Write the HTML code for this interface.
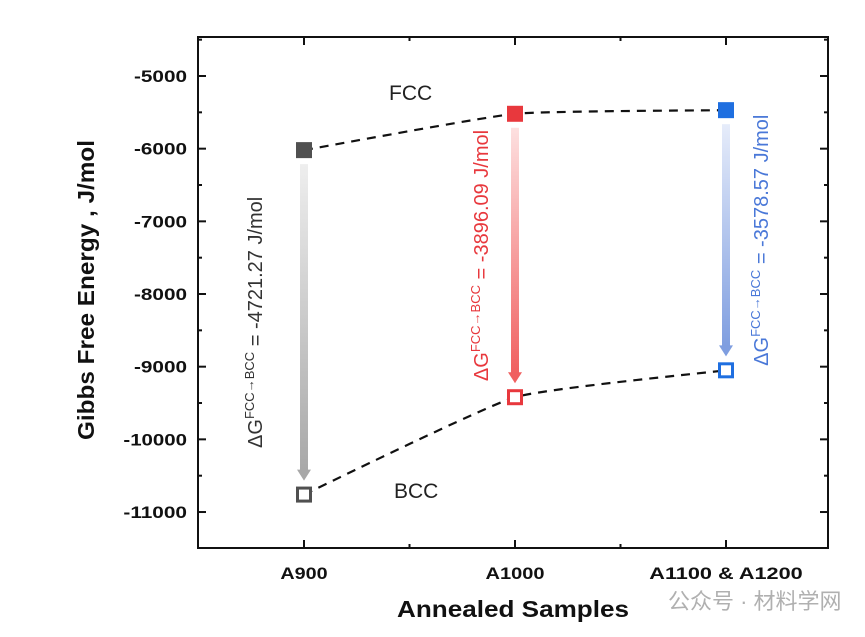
<!DOCTYPE html>
<html><head><meta charset="utf-8"><style>
body{margin:0;background:#fff;}
svg text{font-family:"Liberation Sans",Arial,sans-serif;}
</style></head><body>
<svg id="chart" width="865" height="632">
<defs>
<linearGradient id="gGray" x1="0" y1="0" x2="0" y2="1"><stop offset="0" stop-color="#eeeeee"/><stop offset="1" stop-color="#a8a8a8"/></linearGradient>
<linearGradient id="gRed" x1="0" y1="0" x2="0" y2="1"><stop offset="0" stop-color="#fde0e0"/><stop offset="1" stop-color="#f06060"/></linearGradient>
<linearGradient id="gBlue" x1="0" y1="0" x2="0" y2="1"><stop offset="0" stop-color="#e6ecfa"/><stop offset="1" stop-color="#7f9ee0"/></linearGradient>
</defs>
<g id="plot"></g>
<text x="668" y="609" font-size="22" fill="#b0b0b0" font-family="'Liberation Sans','Noto Sans CJK SC',sans-serif">公众号 · 材料学网</text>
</svg>
<script>
const categories=["A900","A1000","A1100 & A1200"];
const fccValues=[-6020,-5520,-5470];
const bccValues=[-10760,-9420,-9050];
const deltaLabels=["-4721.27","-3896.09","-3578.57"];
const yTicks=[-5000,-6000,-7000,-8000,-9000,-10000,-11000];
const colors=["#505050","#e8383d","#1f6fe0"];
const textColors=["#333333","#e8383d","#4a78d8"];
const grads=["url(#gGray)","url(#gRed)","url(#gBlue)"];

const L=198,R=828,T=37,B=548;
const x=i=>304+i*211;
const y=v=>76+(-5000-v)*0.07267;
const NS="http://www.w3.org/2000/svg";
const g=document.getElementById('plot');
function mk(tag,attrs,parent){const e=document.createElementNS(NS,tag);for(const k in attrs)e.setAttribute(k,attrs[k]);(parent||g).appendChild(e);return e;}

let fr=mk('rect',{x:L,y:T,width:R-L,height:B-T,fill:'none',stroke:'#111','stroke-width':2});



yTicks.forEach(v=>{
  const yy=y(v);
  mk('line',{x1:L,x2:L+8,y1:yy,y2:yy,stroke:'#111','stroke-width':2});
  mk('line',{x1:R,x2:R-8,y1:yy,y2:yy,stroke:'#111','stroke-width':2});
  const ym=y(v-500);
  if(ym<B){mk('line',{x1:L,x2:L+4,y1:ym,y2:ym,stroke:'#111','stroke-width':2});mk('line',{x1:R,x2:R-4,y1:ym,y2:ym,stroke:'#111','stroke-width':2});}
  const t=mk('text',{x:L-11,y:yy+6,'text-anchor':'end','font-size':17,'font-weight':'bold',fill:'#111',lengthAdjust:'spacingAndGlyphs'});
  t.textContent=v;
  t.setAttribute('textLength',String(v).length*10.6);
  
  
});
{const ym=y(-4500);mk('line',{x1:L,x2:L+4,y1:ym,y2:ym,stroke:'#111','stroke-width':2});mk('line',{x1:R,x2:R-4,y1:ym,y2:ym,stroke:'#111','stroke-width':2});}

categories.forEach((c,i)=>{
  const xx=x(i);
  mk('line',{x1:xx,x2:xx,y1:B,y2:B-8,stroke:'#111','stroke-width':2});
  mk('line',{x1:xx,x2:xx,y1:T,y2:T+8,stroke:'#111','stroke-width':2});
  if(i<categories.length-1){const xm=x(i+0.5);mk('line',{x1:xm,x2:xm,y1:B,y2:B-4,stroke:'#111','stroke-width':2});mk('line',{x1:xm,x2:xm,y1:T,y2:T+4,stroke:'#111','stroke-width':2});}
  const t=mk('text',{x:xx,y:B+31,'text-anchor':'middle','font-size':17,'font-weight':'bold',fill:'#111',lengthAdjust:'spacingAndGlyphs'});
  t.textContent=c;
  t.setAttribute('textLength',c.length*11.8);
  
  
});

let yt=mk('text',{x:0,y:0,transform:'translate(94,290) rotate(-90)','text-anchor':'middle','font-size':23,'font-weight':'bold',fill:'#111',textLength:300,lengthAdjust:'spacingAndGlyphs'});
yt.textContent='Gibbs Free Energy , J/mol';


let xt=mk('text',{x:513,y:617,'text-anchor':'middle','font-size':23,'font-weight':'bold',fill:'#111',textLength:232,lengthAdjust:'spacingAndGlyphs'});
xt.textContent='Annealed Samples';



const labelX=[262,488,768];
categories.forEach((c,i)=>{
  const xx=x(i), y1=y(fccValues[i])+14, y2=y(bccValues[i])-14;
  const a=mk('rect',{x:xx-4,y:y1,width:8,height:y2-y1-10,fill:grads[i]});
  
  
  const endC=i==0?'#a8a8a8':(i==1?'#f06060':'#7f9ee0');
  mk('polygon',{points:`${xx-7},${y2-11} ${xx+7},${y2-11} ${xx},${y2}`,fill:endC});
  const cy=(y1+y2)/2;
  const t=mk('text',{x:0,y:0,transform:`translate(${labelX[i]},${cy}) rotate(-90)`,'text-anchor':'middle','font-size':20,fill:textColors[i]});
  t.innerHTML=`ΔG<tspan font-size="13" dy="-8">FCC→BCC</tspan><tspan dy="8"> = ${deltaLabels[i]} J/mol</tspan>`;
  
  
});

function curve(vals){
  const p=vals.map((v,i)=>[x(i),y(v)]);
  let d=`M${p[0][0]},${p[0][1]}`;
  for(let i=0;i<p.length-1;i++){
    const p0=p[Math.max(0,i-1)],p1=p[i],p2=p[i+1],p3=p[Math.min(p.length-1,i+2)];
    const k=0.07;
    const c1=[p1[0]+(p2[0]-p0[0])*k,p1[1]+(p2[1]-p0[1])*k];
    const c2=[p2[0]-(p3[0]-p1[0])*k,p2[1]-(p3[1]-p1[1])*k];
    d+=` C${c1[0]},${c1[1]} ${c2[0]},${c2[1]} ${p2[0]},${p2[1]}`;
  }
  return d;
}
let l1=mk('path',{d:curve(fccValues),fill:'none',stroke:'#111','stroke-width':2.2,'stroke-dasharray':'9,7'});


let l2=mk('path',{d:curve(bccValues),fill:'none',stroke:'#111','stroke-width':2.2,'stroke-dasharray':'9,7'});



categories.forEach((c,i)=>{
  const m=mk('rect',{x:x(i)-8,y:y(fccValues[i])-8,width:16,height:16,fill:colors[i]});
  
  
  const n=mk('rect',{x:x(i)-6.5,y:y(bccValues[i])-6.5,width:13,height:13,fill:'#fff',stroke:colors[i],'stroke-width':3});
  
  
});

let f=mk('text',{x:389,y:100,'font-size':21,fill:'#222'});f.textContent='FCC';


let b=mk('text',{x:394,y:498,'font-size':21,fill:'#222'});b.textContent='BCC';


</script>
</body></html>
